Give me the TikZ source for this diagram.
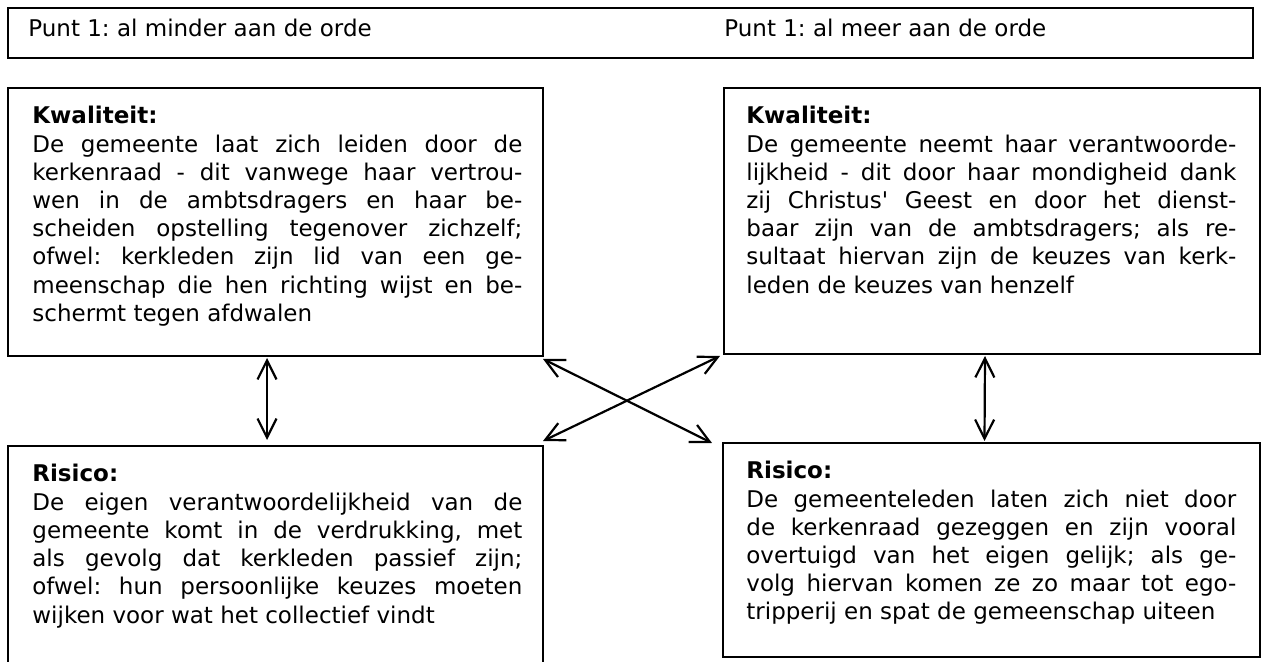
\documentclass[tikz,border=0pt]{standalone}
\usepackage{fontspec}
\setmainfont{DejaVu Sans}
\usetikzlibrary{arrows.meta}
\begin{document}
\begin{tikzpicture}[x=0.5pt, y=-0.5pt, >={Straight Barb[length=9.5pt,width=9.5pt]}]
\tikzstyle{box}=[draw, line width=0.9pt, anchor=north west, inner sep=0pt, outer sep=0pt]
\tikzstyle{txt}=[anchor=base west, inner sep=0pt, text width=245pt, align=justify, font=\fontsize{11.5pt}{14.1pt}\selectfont\frenchspacing]
\tikzstyle{head}=[anchor=base west, inner sep=0pt, font=\fontsize{11.5pt}{14.1pt}\selectfont\frenchspacing]
\tikzstyle{arr}=[line width=1.1pt, <->]
\useasboundingbox (0,0) rectangle (1264,662);
\clip (0,0) rectangle (1264,662);

\node[box, minimum width=622.5pt, minimum height=25pt]  (bar)   at (  8,   8) {};
\node[box, minimum width=267.5pt, minimum height=134pt] (kwalL) at (  8,  88) {};
\node[box, minimum width=268pt,   minimum height=133pt] (kwalR) at (724,  88) {};
\node[box, minimum width=267.5pt, minimum height=120pt] (risL)  at (  8, 446) {};
\node[box, minimum width=268.5pt, minimum height=107pt] (risR)  at (723, 443) {};

\node[head] (puntL) at ( 28, 37) {Punt 1: al minder aan de orde};
\node[head] (puntR) at (724, 37) {Punt 1: al meer aan de orde};

\node[txt] (kwalLtxt) at ( 32, 124) {\textbf{Kwaliteit:}\\
De gemeente laat zich leiden door de\linebreak
kerkenraad - dit vanwege haar vertrou-\linebreak
wen in de ambtsdragers en haar be-\linebreak
scheiden opstelling tegenover zichzelf;\linebreak
ofwel: kerkleden zijn lid van een ge-\linebreak
meenschap die hen richting wijst en be-\linebreak
schermt tegen afdwalen};
\node[txt] (kwalRtxt) at (746, 124) {\textbf{Kwaliteit:}\\
De gemeente neemt haar verantwoorde-\linebreak
lijkheid - dit door haar mondigheid dank\linebreak
zij Christus\textquotesingle{} Geest en door het dienst-\linebreak
baar zijn van de ambtsdragers; als re-\linebreak
sultaat hiervan zijn de keuzes van kerk-\linebreak
leden de keuzes van henzelf};
\node[txt] (risLtxt) at ( 32, 482) {\textbf{Risico:}\\
De eigen verantwoordelijkheid van de\linebreak
gemeente komt in de verdrukking, met\linebreak
als gevolg dat kerkleden passief zijn;\linebreak
ofwel: hun persoonlijke keuzes moeten\linebreak
wijken voor wat het collectief vindt};
\node[txt] (risRtxt) at (746, 479) {\textbf{Risico:}\\
De gemeenteleden laten zich niet door\linebreak
de kerkenraad gezeggen en zijn vooral\linebreak
overtuigd van het eigen gelijk; als ge-\linebreak
volg hiervan komen ze zo maar tot ego-\linebreak
tripperij en spat de gemeenschap uiteen};

\draw[arr] ([xshift=-4.25pt, yshift=-1pt]kwalL.south) -- ([xshift=-4.25pt, yshift=3pt]risL.north);
\draw[arr] ([xshift=-3.5pt, yshift=-1pt]kwalR.south)  -- ([xshift=-3.5pt, yshift=1pt]risR.north);
\draw[arr] ([yshift=-1.5pt]kwalL.south east) -- ([xshift=-5.5pt]risR.north west);
\draw[arr] ([yshift=2.5pt]risL.north east)   -- ([xshift=-2pt, yshift=-1pt]kwalR.south west);
\end{tikzpicture}
\end{document}
